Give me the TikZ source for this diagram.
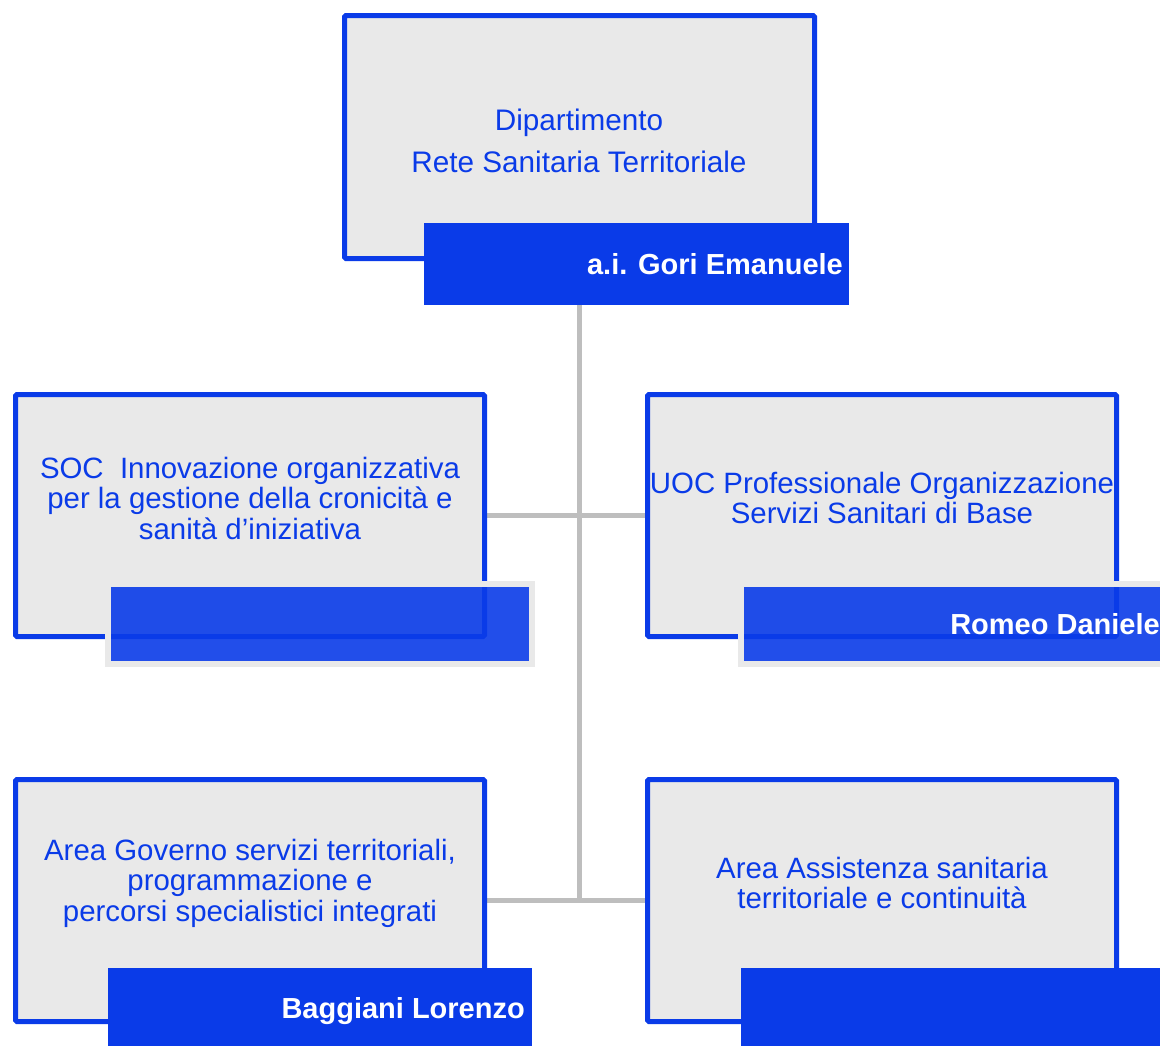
\documentclass[tikz,border=0pt]{standalone}
\usepackage{fontspec}
\setmainfont{Liberation Sans}
\definecolor{orgblue}{RGB}{10,59,232}
\definecolor{boxgray}{RGB}{233,233,233}
\definecolor{linkgray}{RGB}{190,190,190}
\pgfdeclarelayer{background}
\pgfsetlayers{background,main}
\begin{document}
\begin{tikzpicture}[x=1pt,y=-1pt,
  unitbox/.style={draw=orgblue, line width=5pt, fill=boxgray, rounded corners=1.5pt,
    minimum width=469pt, minimum height=242pt, inner sep=0pt, outer sep=0pt},
  unittext/.style={text=orgblue, align=center, inner sep=0pt,
    font=\fontsize{29.4}{30.5}\selectfont},
  namebar/.style={fill=orgblue, minimum width=424pt, minimum height=82pt,
    inner sep=0pt, outer sep=0pt},
  softbar/.style={fill=orgblue, fill opacity=0.9, draw=boxgray, draw opacity=1,
    line width=6pt, minimum width=424pt, minimum height=80pt,
    inner sep=0pt, outer sep=0pt},
  nametext/.style={text=white, anchor=east, inner sep=0pt,
    font=\fontsize{29}{30}\selectfont\bfseries},
  link/.style={draw=linkgray, line width=5pt}]
\useasboundingbox (0,0) rectangle (1160,1045);
\clip (0,0) rectangle (1160,1045);

% junction points of the connector tree
\coordinate (j1) at (579,515.5);
\coordinate (j2) at (579,900.5);

% units
\node[unitbox, minimum width=470pt, minimum height=243pt] (dip) at (579.5,137) {};
\node[unitbox] (soc) at (250,515.5) {};
\node[unitbox] (uoc) at (882,515.5) {};
\node[unitbox] (gov) at (250,900.5) {};
\node[unitbox] (ass) at (882,900.5) {};

% unit titles
\node[unittext, font=\fontsize{29.7}{42}\selectfont] (tdip) at (579,141)
  {Dipartimento\\Rete Sanitaria Territoriale};
\node[unittext] (tsoc) at (250,498)
  {SOC\ \ Innovazione organizzativa\\per la gestione della cronicità e\\sanità d’iniziativa};
\node[unittext] (tuoc) at (882,498)
  {UOC Professionale Organizzazione\\Servizi Sanitari di Base};
\node[unittext] (tgov) at (250,883)
  {Area Governo servizi territoriali,\\programmazione e\\percorsi specialistici integrati};
\node[unittext] (tass) at (882,883)
  {Area Assistenza sanitaria\\territoriale e continuità};

% name bars
\node[namebar, minimum width=425pt] (bdip) at (636.5,264) {};
\node[softbar] (bsoc) at (320,624) {};
\node[softbar] (buoc) at (953,624) {};
\node[namebar] (bgov) at (320,1009) {};
\node[namebar] (bass) at (953,1009) {};

% connector tree, kept behind the boxes
\begin{pgfonlayer}{background}
  \path[link] (bdip.south -| j1) -- (j2);
  \path[link] (soc.east) -- (uoc.west);
  \path[link] (gov.east) -- (ass.west);
\end{pgfonlayer}

% names
\node[nametext] (ngori) at ([xshift=-6pt]bdip.east) {a.i. Gori Emanuele};
\node[nametext] (nromeo) at ([xshift=-5pt]buoc.east) {Romeo Daniele};
\node[nametext] (nbagg) at ([xshift=-7pt,yshift=-2pt]bgov.east) {Baggiani Lorenzo};
\end{tikzpicture}
\end{document}
